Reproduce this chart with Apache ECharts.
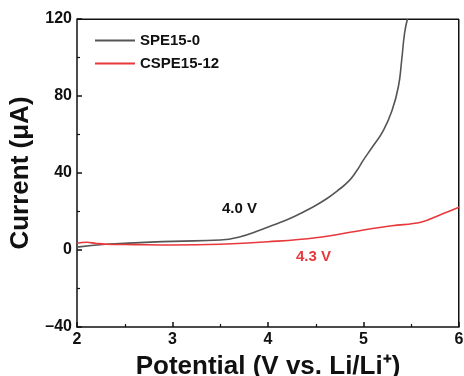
<!DOCTYPE html>
<html>
<head>
<meta charset="utf-8">
<script src="https://cdn.jsdelivr.net/npm/echarts@6/dist/echarts.min.js"></script>
<style>
  html, body { margin: 0; padding: 0; background: #fff; }
  #chart { width: 464px; height: 376px; }
</style>
</head>
<body>
<div id="chart"></div>
<script>
// SPE15-0 (potential V, current uA)
var spePotential = [2.0, 2.3, 3.0, 3.5, 3.7, 3.92, 4.1, 4.27, 4.45, 4.61, 4.72, 4.84, 4.92, 5.0, 5.1, 5.21, 5.3, 5.365, 5.4, 5.43, 5.46];
var speCurrent   = [1.5, 3.0, 4.5, 5.2, 6.8, 10.4, 13.8, 17.3, 21.8, 26.5, 30.5, 35.5, 40.5, 46.8, 54.0, 62.3, 72.7, 84.8, 98.7, 112.6, 120.0];
// CSPE15-12
var cspePotential = [2.0, 2.1, 2.2, 2.3, 2.6, 3.0, 3.5, 4.0, 4.5, 5.0, 5.3, 5.6, 5.8, 6.0];
var cspeCurrent   = [3.5, 4.0, 3.4, 3.0, 2.8, 2.6, 3.0, 4.3, 6.4, 10.4, 12.6, 14.4, 18.2, 22.2];

var font = 'Liberation Sans, Arial, sans-serif';

function pairs(xs, ys) {
  return xs.map(function (x, i) { return [x, ys[i]]; });
}

var chart = echarts.init(document.getElementById('chart'));
var option = {
  animation: false,
  textStyle: { fontFamily: font },
  grid: { left: 77, right: 5, top: 19, bottom: 49, outerBoundsMode: 'none', containLabel: false },
  legend: {
    left: 90, top: 28, orient: 'vertical', itemGap: 8,
    itemWidth: 40, itemHeight: 2,
    icon: 'rect',
    textStyle: { fontSize: 15, fontWeight: 'bold', color: '#111', fontFamily: font },
    data: ['SPE15-0', 'CSPE15-12']
  },
  xAxis: {
    type: 'value', min: 2, max: 6, interval: 1,
    name: 'Potential (V vs. Li/Li\u207A)', nameLocation: 'middle', nameGap: 27,
    nameTextStyle: { fontSize: 26, fontWeight: 'bold', color: '#111', fontFamily: font },
    axisLine: { onZero: false, lineStyle: { color: '#111', width: 1.5 } },
    axisTick: { inside: true, length: 5, lineStyle: { color: '#111', width: 1.5 } },
    minorTick: { show: true, splitNumber: 2, length: 3, lineStyle: { color: '#111', width: 1.2 } },
    axisLabel: { fontSize: 16, fontWeight: 'bold', color: '#111', margin: 5 },
    splitLine: { show: false }
  },
  yAxis: {
    type: 'value', min: -40, max: 120, interval: 40,
    name: 'Current (\u03BCA)', nameLocation: 'middle', nameGap: 43,
    nameTextStyle: { fontSize: 26, fontWeight: 'bold', color: '#111', fontFamily: font },
    axisLine: { onZero: false, lineStyle: { color: '#111', width: 1.5 } },
    axisTick: { inside: true, length: 5, lineStyle: { color: '#111', width: 1.5 } },
    minorTick: { show: true, splitNumber: 2, length: 3, lineStyle: { color: '#111', width: 1.2 } },
    axisLabel: {
      fontSize: 16, fontWeight: 'bold', color: '#111', margin: 5,
      formatter: function (v) { return String(v).replace('-', '\u2013'); }
    },
    splitLine: { show: false }
  },
  series: [
    {
      name: 'SPE15-0', type: 'line', smooth: 0.5, showSymbol: false,
      data: pairs(spePotential, speCurrent),
      itemStyle: { color: '#555' },
      lineStyle: { color: '#555', width: 1.6 }
    },
    {
      name: 'CSPE15-12', type: 'line', smooth: 0.4, showSymbol: false,
      data: pairs(cspePotential, cspeCurrent),
      itemStyle: { color: '#e8383b' },
      lineStyle: { color: '#e8383b', width: 1.6 }
    }
  ],
  graphic: [
    { type: 'rect', left: 458, top: 19, shape: { width: 1.5, height: 308 }, style: { fill: '#111' } },
    { type: 'rect', left: 77, top: 18.5, shape: { width: 382, height: 1.5 }, style: { fill: '#111' } },
    { type: 'text', left: 222, top: 201, style: { text: '4.0 V', fontSize: 15, fontWeight: 'bold', fill: '#111', fontFamily: font } },
    { type: 'text', left: 296, top: 249, style: { text: '4.3 V', fontSize: 15, fontWeight: 'bold', fill: '#e8383b', fontFamily: font } }
  ]
};
chart.setOption(option);
</script>
</body>
</html>
